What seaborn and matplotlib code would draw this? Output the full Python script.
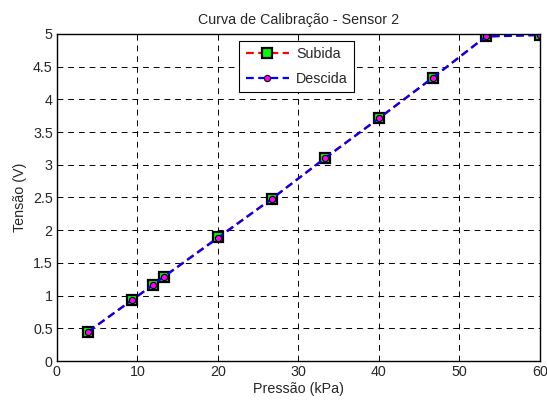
import matplotlib
matplotlib.use("Agg")
import matplotlib.pyplot as plt
import seaborn as sns
import pandas as pd

# --- DATA ---
pressao = [3.9, 9.3, 12.0, 13.3, 20.0, 26.7, 33.3, 40.0, 46.7, 53.3, 60.0]
tensao_subida = [0.45, 0.93, 1.17, 1.29, 1.89, 2.48, 3.10, 3.71, 4.33, 4.96, 4.99]
tensao_descida = [0.45, 0.93, 1.17, 1.29, 1.88, 2.48, 3.10, 3.71, 4.33, 4.96, 4.98]

x_ticks = [0, 10, 20, 30, 40, 50, 60]
y_ticks = [0, 0.5, 1, 1.5, 2, 2.5, 3, 3.5, 4, 4.5, 5]
y_ticklabels = ["0", "0.5", "1", "1.5", "2", "2.5", "3", "3.5", "4", "4.5", "5"]

df = pd.DataFrame({"Pressao": pressao, "Subida": tensao_subida, "Descida": tensao_descida})

# --- Plotting ---
sns.set_style("white")
plt.rcParams["font.family"] = ["Liberation Sans", "DejaVu Sans"]
fs = 10.3

fig = plt.figure(figsize=(5.47, 4.03), dpi=100)
ax = fig.add_axes([0.104, 0.104, 0.883, 0.812])

sns.lineplot(data=df, x="Pressao", y="Subida", ax=ax, color="red", linestyle=(0, (3.5, 2)),
             linewidth=1.6, marker="s", markersize=7, markerfacecolor="#00ff00",
             markeredgecolor="black", markeredgewidth=1.6, label="Subida")
sns.lineplot(data=df, x="Pressao", y="Descida", ax=ax, color="blue", linestyle=(0, (3.5, 2)),
             linewidth=1.6, marker="o", markersize=4.5, markerfacecolor="magenta",
             markeredgecolor="black", markeredgewidth=0.8, label="Descida")

ax.set_xlim(0, 60)
ax.set_ylim(0, 5)
ax.set_xticks(x_ticks)
ax.set_yticks(y_ticks)
ax.set_yticklabels(y_ticklabels)
ax.grid(True, color="black", linestyle=(0, (6, 5)), linewidth=0.7)
ax.tick_params(direction="in", length=4, color="black", labelsize=fs, pad=3)
for s in ax.spines.values():
    s.set_color("black")
    s.set_linewidth(1.0)

ax.set_title("Curva de Calibração - Sensor 2", fontsize=fs, pad=7)
ax.set_xlabel("Pressão (kPa)", fontsize=fs, labelpad=2)
ax.set_ylabel("Tensão (V)", fontsize=fs, labelpad=4)

leg = ax.legend(loc="upper left", bbox_to_anchor=(0.378, 0.979), borderaxespad=0,
                fancybox=False, edgecolor="black", framealpha=1, fontsize=fs,
                handlelength=3.0, borderpad=0.45, labelspacing=0.75, handletextpad=0.5)
leg.get_frame().set_linewidth(0.8)

fig.savefig("out.png", dpi=100)
